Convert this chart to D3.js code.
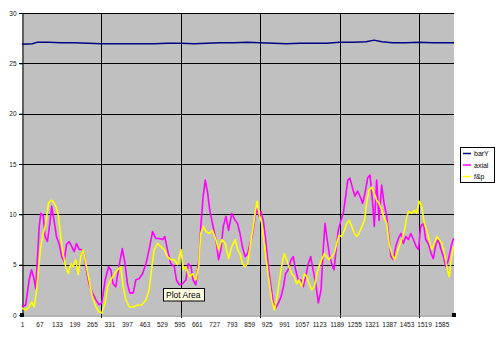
<!DOCTYPE html>
<html>
<head>
<meta charset="utf-8">
<script src="https://cdn.jsdelivr.net/npm/d3@7"></script>
<style>
  html, body { margin: 0; padding: 0; background: #fff; }
  svg { display: block; font-family: "Liberation Sans", Arial, sans-serif; }
</style>
</head>
<body>
<svg id="chart" width="500" height="338"></svg>
<script>
// values: [row, value]
const barY = [[1,26.9],[40,26.95],[60,27.1],[100,27.1],[150,27.05],[200,27.05],[250,27.0],[300,26.95],
  [350,26.95],[400,26.95],[450,26.95],[500,26.95],[550,27.0],[600,27.0],[650,26.95],[700,27.0],
  [750,27.05],[800,27.05],[850,27.1],[900,27.05],[950,27.0],[1000,26.95],[1050,27.0],[1100,27.0],
  [1150,27.0],[1200,27.1],[1250,27.1],[1300,27.15],[1330,27.3],[1360,27.15],[1400,27.05],
  [1450,27.05],[1500,27.1],[1550,27.05],[1600,27.05],[1632,27.05]];

const axial = [[1,0.8],[15,1.0],[28,3.5],[37,4.5],[47,3.5],[53,2.6],[59,5.5],[66,8.8],[72,10.1],[81,9.9],
  [88,7.8],[97,7.3],[106,9.1],[113,10.8],[122,9.4],[131,7.8],[141,7.1],[151,5.8],[160,5.3],[169,7.0],
  [179,7.3],[189,6.8],[198,6.3],[207,7.1],[217,6.5],[227,6.5],[236,6.1],[242,4.8],[254,3.1],[267,2.2],
  [280,1.5],[292,1.0],[302,1.2],[315,3.5],[328,4.8],[336,4.5],[345,3.1],[355,2.8],[365,4.5],[374,5.8],
  [380,6.6],[390,5.1],[399,3.1],[408,2.2],[421,2.2],[431,3.5],[443,3.6],[456,4.1],[469,5.1],[481,6.5],
  [494,8.3],[506,7.6],[519,7.6],[532,7.5],[540,7.8],[550,6.5],[563,5.1],[576,4.8],[584,3.5],[595,3.0],
  [607,3.1],[620,3.5],[629,5.1],[639,4.8],[647,3.5],[657,3.0],[670,5.8],[676,8.8],[685,11.8],[693,13.4],
  [702,12.1],[710,10.4],[720,9.1],[733,7.5],[743,5.5],[752,6.5],[761,8.8],[771,9.8],[781,8.4],[793,10.1],
  [806,9.4],[815,9.1],[824,8.1],[833,6.8],[843,5.8],[853,6.1],[862,7.1],[870,7.8],[881,9.8],[888,10.6],
  [896,9.8],[903,10.3],[912,9.4],[921,7.5],[931,4.8],[941,2.8],[950,1.2],[959,0.7],[969,1.2],[979,1.8],
  [988,2.8],[996,4.1],[1006,4.5],[1017,5.5],[1025,5.8],[1034,4.5],[1044,3.5],[1054,3.5],[1063,2.8],
  [1072,3.8],[1082,5.1],[1091,5.8],[1100,4.5],[1110,3.1],[1120,1.2],[1130,2.5],[1139,6.8],[1145,9.1],
  [1153,7.5],[1161,6.1],[1170,5.1],[1179,4.5],[1187,6.5],[1195,8.4],[1205,9.4],[1214,10.1],[1223,11.8],
  [1231,13.4],[1239,13.6],[1248,12.7],[1258,11.8],[1268,12.3],[1277,11.8],[1287,11.1],[1296,12.1],
  [1306,13.6],[1315,13.9],[1324,11.4],[1331,8.8],[1340,13.4],[1349,9.4],[1359,12.9],[1368,11.1],
  [1378,9.8],[1387,7.5],[1394,5.8],[1403,5.5],[1412,6.8],[1422,7.6],[1432,8.1],[1441,7.1],[1450,7.8],
  [1460,7.5],[1469,8.1],[1479,7.5],[1489,6.8],[1498,6.5],[1506,8.8],[1517,9.1],[1525,7.5],[1535,7.1],
  [1546,6.1],[1554,5.6],[1564,7.1],[1573,7.5],[1583,6.5],[1592,5.8],[1601,4.8],[1611,5.5],[1621,6.8],
  [1630,7.6]];

const fp = [[1,0.7],[15,0.5],[28,0.8],[38,1.3],[47,0.8],[55,2.2],[63,4.5],[72,6.8],[81,8.1],[91,9.1],
  [101,11.1],[110,11.4],[118,11.3],[129,10.8],[139,9.8],[147,7.8],[156,6.1],[166,4.8],[176,4.1],[185,5.1],
  [194,4.8],[204,5.5],[213,4.0],[223,5.8],[232,6.5],[242,5.1],[254,3.5],[267,1.8],[280,0.8],[292,0.3],
  [302,0.2],[315,1.2],[324,2.8],[336,3.5],[349,4.0],[362,4.5],[374,4.8],[383,2.8],[393,1.5],[406,0.8],
  [421,0.8],[437,1.0],[453,1.0],[469,1.5],[481,2.5],[490,4.5],[500,6.5],[513,7.1],[525,6.8],[538,6.5],
  [550,5.8],[563,5.5],[576,5.5],[588,5.0],[601,6.5],[610,4.5],[620,4.8],[632,3.8],[645,4.1],[657,3.5],
  [668,4.8],[676,8.1],[685,8.8],[695,8.3],[708,8.1],[720,8.4],[733,7.5],[743,6.5],[756,7.5],[768,7.1],
  [781,5.6],[793,6.8],[806,7.5],[815,6.5],[824,6.1],[833,5.1],[843,4.8],[853,5.1],[862,6.8],[870,8.1],
  [881,10.1],[888,11.3],[896,10.1],[906,9.1],[916,7.1],[925,5.1],[933,3.5],[944,1.5],[954,0.5],[962,1.5],
  [971,3.1],[981,4.8],[991,6.1],[1000,5.5],[1009,4.8],[1019,4.1],[1029,3.8],[1038,3.1],[1047,3.5],
  [1057,2.8],[1067,4.1],[1076,3.8],[1085,3.1],[1095,2.5],[1105,2.8],[1114,4.1],[1122,4.8],[1132,5.5],
  [1143,6.1],[1151,5.8],[1160,5.5],[1170,5.8],[1180,6.1],[1189,7.1],[1198,7.9],[1208,7.8],[1218,8.4],
  [1227,9.1],[1236,9.4],[1246,8.8],[1256,8.1],[1265,7.8],[1273,8.1],[1284,8.8],[1294,9.4],[1302,11.1],
  [1311,12.4],[1321,12.7],[1331,12.1],[1340,11.4],[1349,11.1],[1359,10.4],[1369,9.6],[1378,9.1],
  [1387,7.1],[1397,6.1],[1407,5.5],[1416,6.1],[1425,6.8],[1435,7.5],[1445,8.4],[1454,9.8],[1462,10.3],
  [1472,10.1],[1483,10.4],[1491,10.1],[1500,11.3],[1510,10.8],[1520,9.1],[1529,8.4],[1538,7.5],
  [1548,6.5],[1558,7.1],[1567,7.8],[1576,7.5],[1586,7.1],[1596,6.1],[1605,4.8],[1614,3.8],[1621,5.5],
  [1630,6.8]];

const xLabels = [1,67,133,199,265,331,397,463,529,595,661,727,793,859,925,991,1057,1123,1189,1255,1321,1387,1453,1519,1585];
const xGrid = [301,601,901,1201,1501];
const yTicks = [0,5,10,15,20,25,30];
const rowCount = 1632;

const series = [
  { name: 'barY', values: barY, color: '#000080' },
  { name: 'axial', values: axial, color: '#ff00ff' },
  { name: 'f&p', values: fp, color: '#ffff00' }
];

const svg = d3.select('#chart');
const L = 22, R = 454, T = 13, B = 315;

const x = d3.scaleLinear().domain([1, rowCount]).range([L, R]);
const y = d3.scaleLinear().domain([0, 30]).range([B, T]);

svg.append('rect')
  .attr('x', L).attr('y', T).attr('width', R - L).attr('height', B - T)
  .attr('fill', '#c0c0c0');

// gridlines
svg.append('g').selectAll('line').data(yTicks.slice(1)).enter().append('line')
  .attr('x1', L - 3).attr('x2', R)
  .attr('y1', d => Math.round(y(d)) + 0.5).attr('y2', d => Math.round(y(d)) + 0.5)
  .attr('stroke', '#000').attr('stroke-width', 1);
svg.append('g').selectAll('line').data(xGrid).enter().append('line')
  .attr('x1', d => Math.round(x(d)) + 0.5).attr('x2', d => Math.round(x(d)) + 0.5)
  .attr('y1', T).attr('y2', B + 3)
  .attr('stroke', '#000').attr('stroke-width', 1);

// axes
const yAxis = d3.axisLeft(y).tickValues(yTicks).tickSize(3).tickPadding(3);
const yg = svg.append('g').attr('transform', `translate(${L + 0.5},0)`).call(yAxis);
const xAxis = d3.axisBottom(x).tickValues(xLabels).tickFormat(d3.format('d')).tickSize(0).tickPadding(7);
const xg = svg.append('g').attr('transform', `translate(0,${B + 0.5})`).call(xAxis);
[yg, xg].forEach(g => {
  g.select('.domain').attr('stroke', '#000');
  g.selectAll('.tick line').attr('stroke', '#000');
  g.selectAll('text').attr('fill', '#111').style('font-size', '6.5px');
});
xg.select('.domain').attr('stroke', '#666');

// series lines
const line = d3.line().x(d => x(d[0])).y(d => y(d[1]));
series.forEach(s => {
  svg.append('path')
    .datum(s.values)
    .attr('d', line)
    .attr('fill', 'none')
    .attr('stroke', s.color)
    .attr('stroke-width', s.name === 'barY' ? 1.4 : 1.6)
    .attr('stroke-linejoin', 'round');
});

// plot area selection handles
[[L, B], [R, B]].forEach(([hx, hy]) => {
  svg.append('rect').attr('x', hx - 2).attr('y', hy - 2).attr('width', 4).attr('height', 4).attr('fill', '#000');
});

// legend
const lg = svg.append('g').attr('transform', 'translate(460,147)');
lg.append('rect').attr('x', 0.5).attr('y', 0.5).attr('width', 34).attr('height', 35)
  .attr('fill', '#fff').attr('stroke', '#000');
series.forEach((s, i) => {
  const ly = 6.5 + i * 11.5;
  lg.append('line').attr('x1', 3).attr('x2', 11).attr('y1', ly).attr('y2', ly)
    .attr('stroke', s.color).attr('stroke-width', 1.5);
  lg.append('text').attr('x', 14).attr('y', ly + 2.5).text(s.name)
    .style('font-size', '7px').attr('fill', '#000');
});

// "Plot Area" tooltip
const tip = svg.append('g').attr('transform', 'translate(163,288)');
tip.append('rect').attr('x', 0.5).attr('y', 0.5).attr('width', 41).attr('height', 12.5)
  .attr('fill', '#ffffe1').attr('stroke', '#000');
tip.append('text').attr('x', 3).attr('y', 10).text('Plot Area')
  .style('font-size', '8.5px').attr('fill', '#000');
</script>
</body>
</html>
